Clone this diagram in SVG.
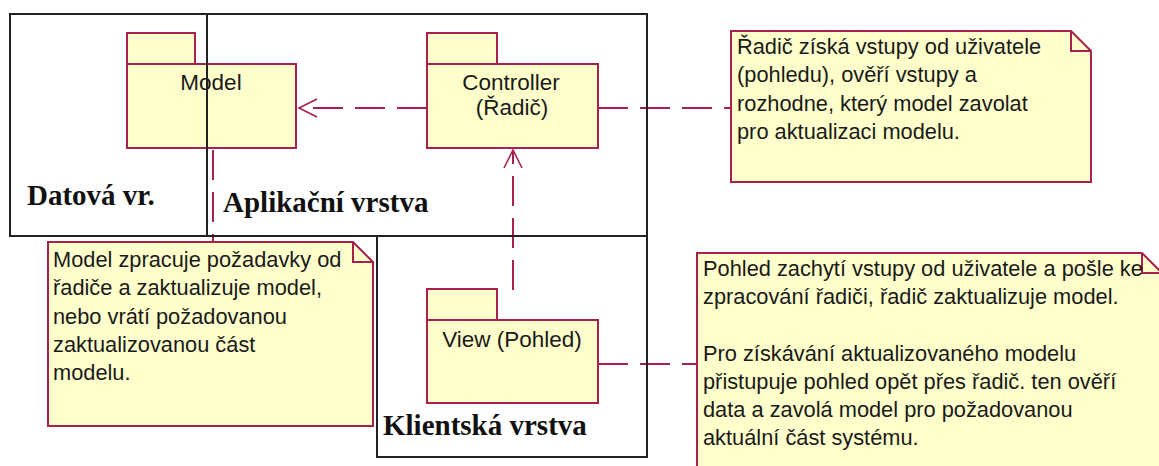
<svg xmlns="http://www.w3.org/2000/svg" width="1159" height="466" viewBox="0 0 1159 466">
<style>
.pkg{fill:#ffffcc;stroke:#a8204e;stroke-width:2}
.note{fill:#ffffcc;stroke:#a8204e;stroke-width:2}
.fold{fill:none;stroke:#a8204e;stroke-width:2}
.layer{fill:none;stroke:#222;stroke-width:2}
.dep{fill:none;stroke:#a8204e;stroke-width:2;stroke-dasharray:30 12}
.head{fill:none;stroke:#a8204e;stroke-width:1.6}
.lbl{font-family:"Liberation Sans",Arial,sans-serif;font-size:22.5px;fill:#1a1a1a}
.ntxt{font-family:"Liberation Sans",Arial,sans-serif;font-size:21.8px;fill:#1a1a1a}
.lay{font-family:"Liberation Serif","Times New Roman",serif;font-weight:bold;font-size:29px;fill:#111}
</style>
<rect width="1159" height="466" fill="#fff"/>
<g id="connectors">
<path class="dep" d="M427,108 H300"/>
<path class="head" d="M317,99 L299,108 L317,117"/>
<path class="dep" d="M598,108 H731"/>
<path class="dep" d="M513,290 V152"/>
<path class="head" d="M504,168 L513,150 L522,168"/>
<path class="dep" d="M213,150 V242"/>
<path class="dep" d="M598,364 H697"/>
</g>
<g id="model">
<rect class="pkg" x="127" y="33" width="68" height="31"/>
<rect class="pkg" x="127" y="64" width="169" height="84"/>
<text class="lbl" x="211" y="90" text-anchor="middle">Model</text>
</g>
<g id="controller">
<rect class="pkg" x="427" y="33" width="70" height="31"/>
<rect class="pkg" x="427" y="64" width="171" height="84"/>
<text class="lbl" x="511" y="90" text-anchor="middle">Controller</text>
<text class="lbl" x="512" y="115" text-anchor="middle">(Řadič)</text>
</g>
<g id="view">
<rect class="pkg" x="427" y="289" width="70" height="31"/>
<rect class="pkg" x="427" y="320" width="171" height="83"/>
<text class="lbl" x="512" y="347" text-anchor="middle">View (Pohled)</text>
</g>
<g id="layer-datova">
<rect class="layer" x="10" y="14" width="197" height="222"/>
<text class="lay" x="27" y="205">Datová vr.</text>
</g>
<g id="layer-aplikacni">
<rect class="layer" x="207" y="14" width="440" height="222"/>
<text class="lay" x="223" y="212">Aplikační vrstva</text>
</g>
<g id="layer-klientska">
<rect class="layer" x="377" y="236" width="270" height="221"/>
<text class="lay" x="383" y="435">Klientská vrstva</text>
</g>
<g id="note-controller">
<path class="note" d="M731,31 H1071 L1091,51 V182 H731 Z"/>
<path class="fold" d="M1071,31 V51 H1091"/>
<text class="ntxt" x="737" y="54">Řadič získá vstupy od uživatele</text>
<text class="ntxt" x="737" y="82">(pohledu), ověří vstupy a</text>
<text class="ntxt" x="737" y="111">rozhodne, který model zavolat</text>
<text class="ntxt" x="737" y="139">pro aktualizaci modelu.</text>
</g>
<g id="note-model">
<path class="note" d="M48,242 H353 L373,262 V426 H48 Z"/>
<path class="fold" d="M353,242 V262 H373"/>
<text class="ntxt" x="53" y="267">Model zpracuje požadavky od</text>
<text class="ntxt" x="53" y="295">řadiče a zaktualizuje model,</text>
<text class="ntxt" x="53" y="324">nebo vrátí požadovanou</text>
<text class="ntxt" x="53" y="352">zaktualizovanou část</text>
<text class="ntxt" x="53" y="380">modelu.</text>
</g>
<g id="note-view">
<path class="note" d="M697,253 H1142 L1162,273 V470 H697 Z"/>
<path class="fold" d="M1142,253 V273 H1162"/>
<text class="ntxt" x="703" y="276">Pohled zachytí vstupy od uživatele a pošle ke</text>
<text class="ntxt" x="703" y="304">zpracování řadiči, řadič zaktualizuje model.</text>
<text class="ntxt" x="703" y="361">Pro získávání aktualizovaného modelu</text>
<text class="ntxt" x="703" y="389">přistupuje pohled opět přes řadič. ten ověří</text>
<text class="ntxt" x="703" y="417">data a zavolá model pro požadovanou</text>
<text class="ntxt" x="703" y="445">aktuální část systému.</text>
</g>
</svg>
